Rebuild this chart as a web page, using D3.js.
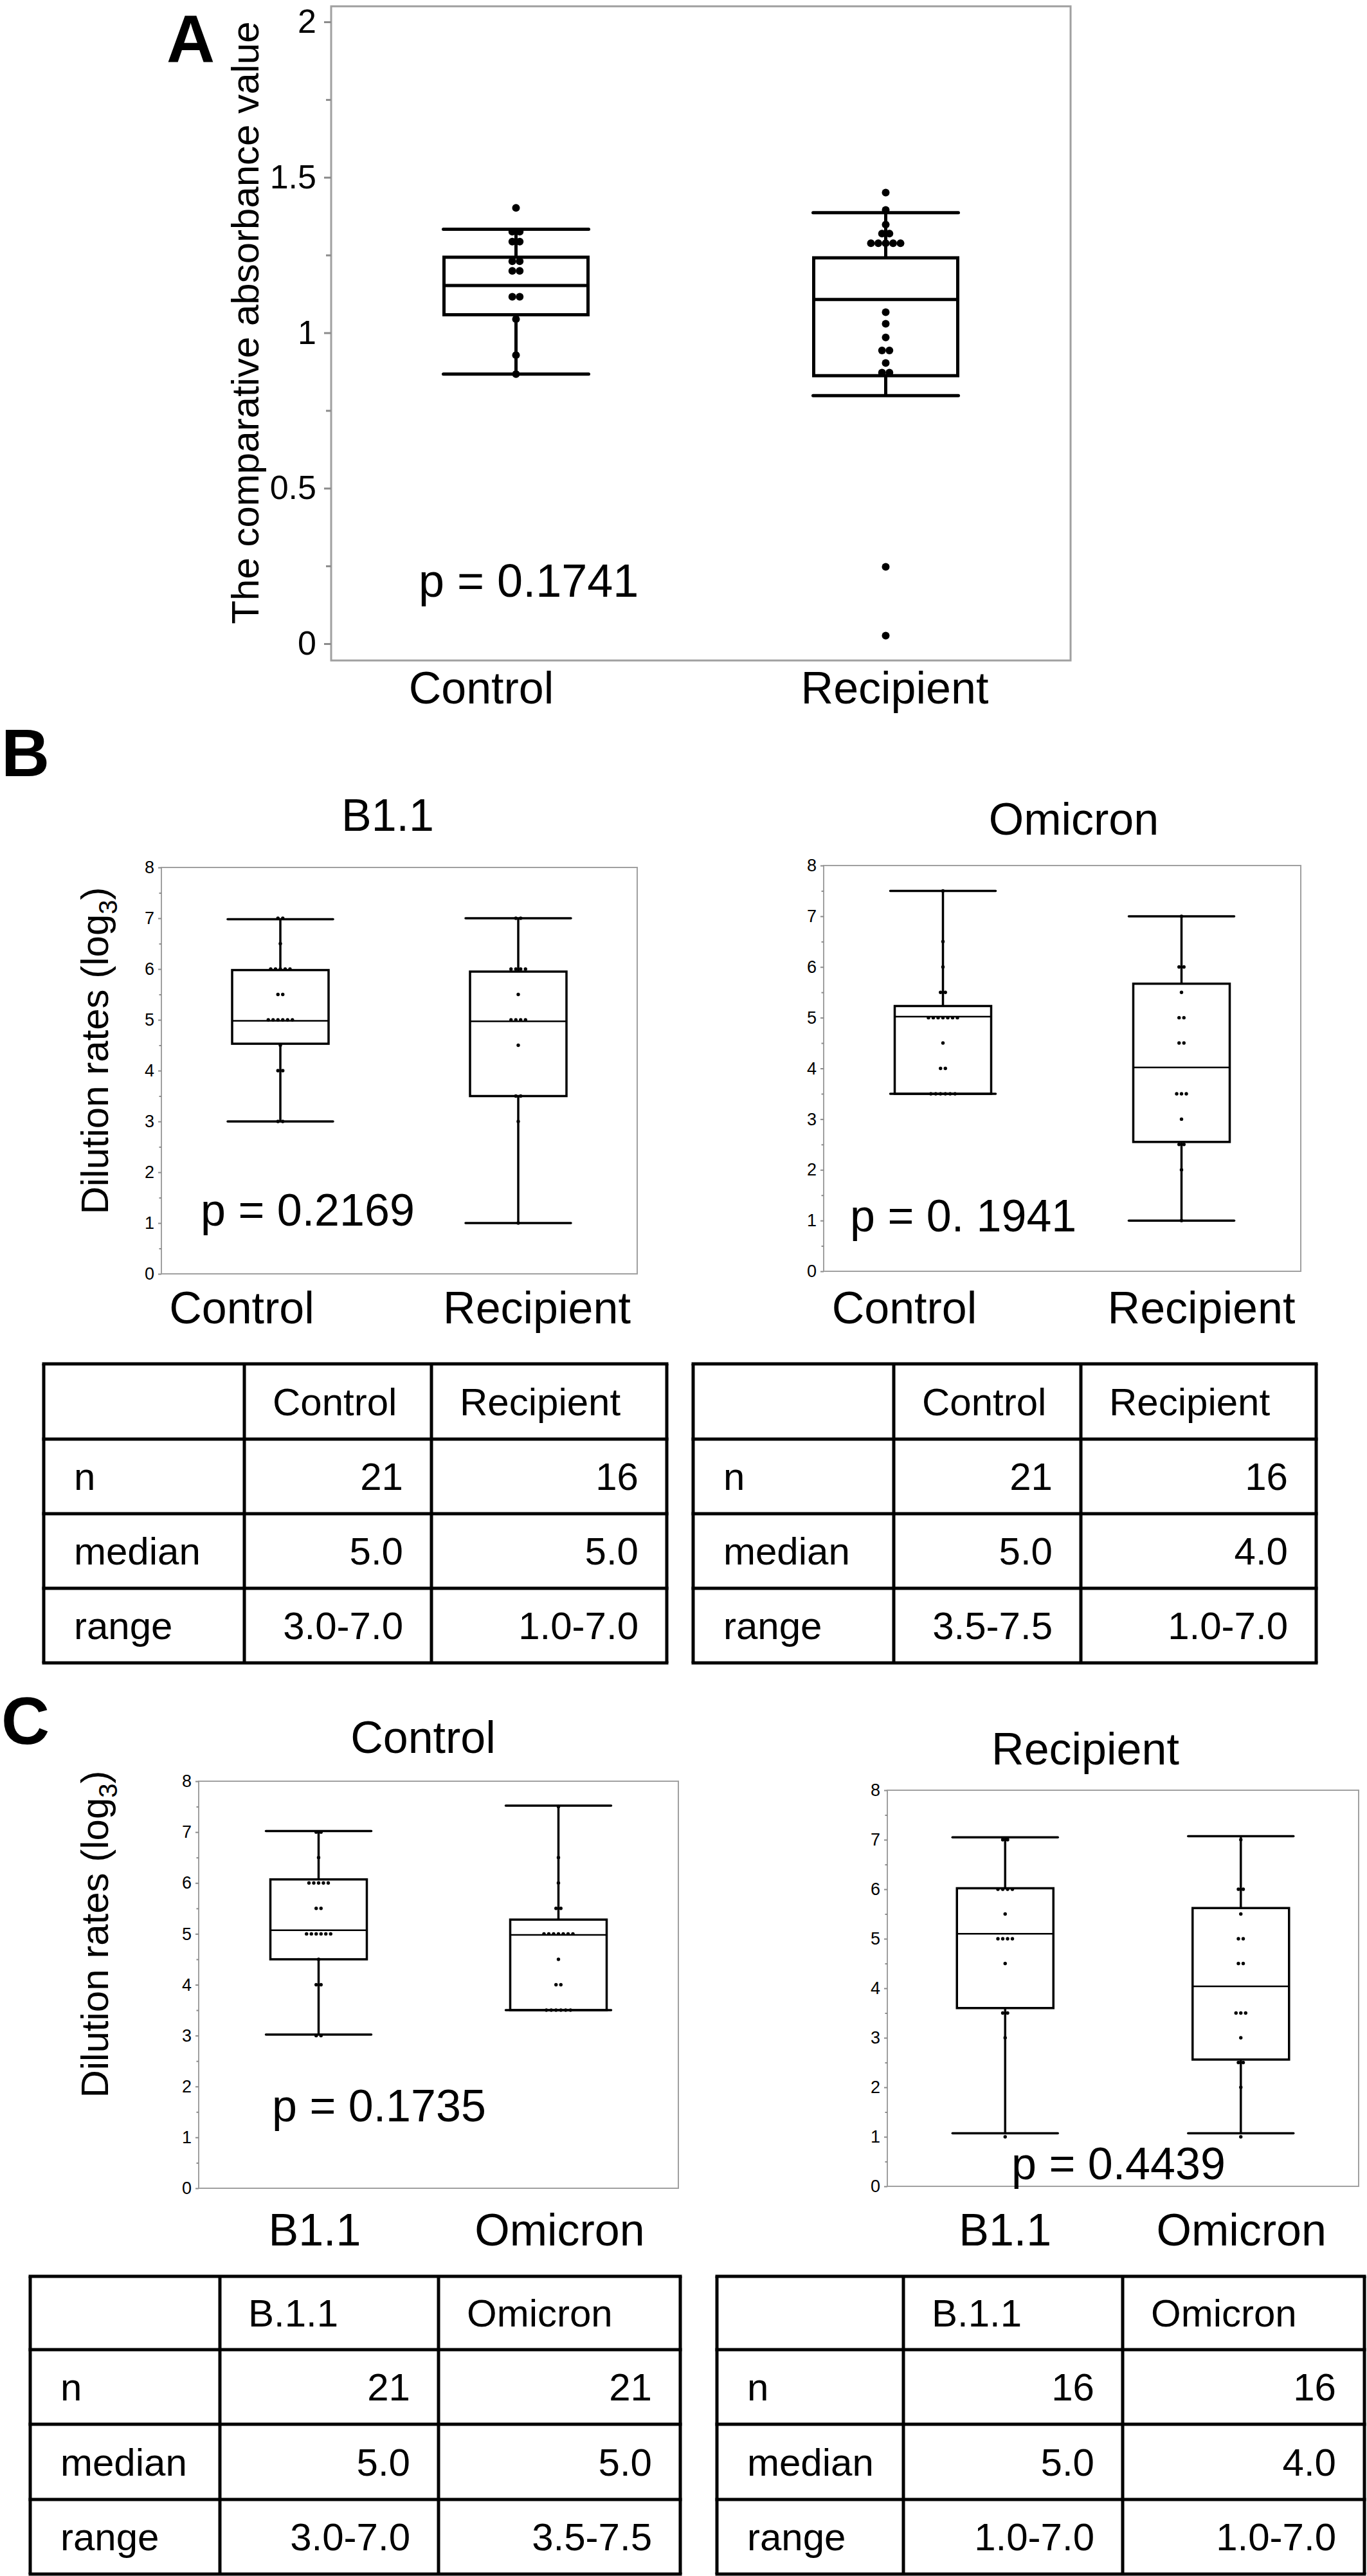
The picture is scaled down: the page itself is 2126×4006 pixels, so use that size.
<!DOCTYPE html>
<html lang="en">
<head>
<meta charset="UTF-8" />
<title>Absorbance and neutralising dilution rates</title>
<script src="https://d3js.org/d3.v7.min.js"></script>
<style>
  body { margin: 0; background: #fff; }
  svg { display: block; background: #fff; }
</style>
</head>
<body>
<div id="figure"></div>
<script>
// ---- values ----
const groupsCR = ["Control", "Recipient"];
const groupsVar = ["B1.1", "Omicron"];

// boxes: [lower whisker, Q1, median, Q3, upper whisker]
const absBoxControl = [0.867, 1.058, 1.152, 1.243, 1.333];
const absBoxRecipient = [0.798, 0.862, 1.107, 1.241, 1.386];
const absDotsControl = [1.402, 1.325, 1.325, 1.293, 1.293, 1.23, 1.23, 1.199, 1.199, 1.116, 1.116, 1.044, 0.928, 0.867];
const absDotsRecipient = [1.451, 1.395, 1.348, 1.319, 1.319, 1.288, 1.288, 1.288, 1.288, 1.288,
  1.066, 1.029, 0.985, 0.943, 0.943, 0.903, 0.872, 0.872, 0.247, 0.026];

const b11BoxControl = [3.0, 4.53, 4.98, 5.98, 6.98];
const b11BoxRecipient = [1.0, 3.5, 4.97, 5.95, 7.0];
const omiBoxControl = [3.5, 3.5, 5.02, 5.23, 7.5];
const omiBoxRecipient = [1.0, 2.55, 4.02, 5.67, 7.0];

const b11DotsControl = [7, 7, 6.5, 6, 6, 6, 6, 6, 5.5, 5.5, 5, 5, 5, 5, 5, 5, 4.5, 4, 4, 3, 3];
const b11DotsRecipient = [7, 7, 6, 6, 6, 6, 5.5, 5, 5, 5, 5, 4.5, 3.5, 3.5, 3, 1];
const omiDotsControl = [7.5, 6.5, 6, 5.5, 5.5, 5, 5, 5, 5, 5, 5, 5, 4.5, 4, 4, 3.5, 3.5, 3.5, 3.5, 3.5, 3.5];
const omiDotsRecipient = [7, 6, 6, 5.5, 5, 5, 4.5, 4.5, 3.5, 3.5, 3.5, 3, 2.5, 2.5, 2, 1];

// panel C shows the same samples, boxes as drawn there
const ctrlBoxB11 = [3.02, 4.5, 5.07, 6.07, 7.02];
const ctrlBoxOmi = [3.5, 3.5, 4.98, 5.28, 7.52];
const recBoxB11 = [1.07, 3.6, 5.1, 6.02, 7.05];
const recBoxOmi = [1.07, 2.56, 4.04, 5.62, 7.07];

const pValues = ["p = 0.1741", "p = 0.2169", "p = 0. 1941", "p = 0.1735", "p = 0.4439"];

const absTicks = [0, 0.5, 1, 1.5, 2];
const absMinor = [0.25, 0.75, 1.25, 1.75];
const dilTicks = [0, 1, 2, 3, 4, 5, 6, 7, 8];
const dilMinor = [0.5, 1.5, 2.5, 3.5, 4.5, 5.5, 6.5, 7.5];

const rowLabels = ["n", "median", "range"];
const headerCR = ["Control", "Recipient"];
const headerVar = ["B.1.1", "Omicron"];
const tableB11 = [["21", "16"], ["5.0", "5.0"], ["3.0-7.0", "1.0-7.0"]];
const tableOmi = [["21", "16"], ["5.0", "4.0"], ["3.5-7.5", "1.0-7.0"]];
const tableCtrl = [["21", "21"], ["5.0", "5.0"], ["3.0-7.0", "3.5-7.5"]];
const tableRec = [["16", "16"], ["5.0", "4.0"], ["1.0-7.0", "1.0-7.0"]];

const FONT = '"Liberation Sans", Arial, Helvetica, sans-serif';
const W = 2126, H = 4006;

const svg = d3.select("#figure").append("svg")
  .attr("width", W).attr("height", H)
  .attr("font-family", FONT);

function boxPanel(o) {
  const y = d3.scaleLinear().domain([0, o.topVal]).range([o.y0, o.yTop]);
  const x = d3.scalePoint().domain(o.groups).range([o.x0, o.x1]).padding(0.5);
  const g = svg.append("g");

  g.append("rect")
    .attr("x", o.x0).attr("y", y(o.frameHi))
    .attr("width", o.x1 - o.x0).attr("height", y(o.frameLo) - y(o.frameHi))
    .attr("fill", "none").attr("stroke", "#a0a0a0").attr("stroke-width", o.frameW);

  // minor ticks
  const minor = g.append("g").attr("transform", `translate(${o.x0},0)`)
    .call(d3.axisLeft(y).tickValues(o.minor).tickSize(o.minorLen).tickFormat(""));
  minor.select(".domain").remove();
  minor.selectAll("line").attr("stroke", "#8c8c8c").attr("stroke-width", o.frameW);

  const ax = g.append("g").attr("transform", `translate(${o.x0},0)`)
    .call(d3.axisLeft(y).tickValues(o.major).tickSize(o.tickLen)
      .tickPadding(o.tickPad).tickFormat(d => String(d)));
  ax.select(".domain").remove();
  ax.attr("font-family", FONT).attr("font-size", o.tickFont);
  ax.selectAll("line").attr("stroke", "#8c8c8c").attr("stroke-width", o.frameW);
  ax.selectAll("text").attr("fill", "#000");

  o.groups.forEach((grp, i) => {
    const [lo, q1, med, q3, hi] = o.boxes[i];
    const cx = x(grp);
    const bg = g.append("g").attr("stroke", "#000").attr("fill", "none");
    bg.append("line").attr("x1", cx).attr("x2", cx)
      .attr("y1", y(lo)).attr("y2", y(q1)).attr("stroke-width", o.lineW);
    bg.append("line").attr("x1", cx).attr("x2", cx)
      .attr("y1", y(q3)).attr("y2", y(hi)).attr("stroke-width", o.lineW);
    [lo, hi].forEach(v => {
      bg.append("line")
        .attr("x1", cx - o.capW / 2).attr("x2", cx + o.capW / 2)
        .attr("y1", y(v)).attr("y2", y(v))
        .attr("stroke-width", o.lineW).attr("stroke-linecap", "round");
    });
    bg.append("rect")
      .attr("x", cx - o.boxW / 2).attr("y", y(q3))
      .attr("width", o.boxW).attr("height", y(q1) - y(q3))
      .attr("stroke-width", o.lineW);
    bg.append("line")
      .attr("x1", cx - o.boxW / 2).attr("x2", cx + o.boxW / 2)
      .attr("y1", y(med)).attr("y2", y(med))
      .attr("stroke-width", o.medW);

    // dots, ties spread sideways
    const counts = d3.rollups(o.dots[i], v => v.length, d => d);
    counts.forEach(([v, k]) => {
      d3.range(k).forEach(j => {
        g.append("circle")
          .attr("cx", cx + (j - (k - 1) / 2) * o.dotGap)
          .attr("cy", y(v))
          .attr("r", o.dotR)
          .attr("fill", "#000");
      });
    });

    g.append("text")
      .attr("x", cx + o.labelDx[i]).attr("y", o.labelY)
      .attr("text-anchor", "middle").attr("font-size", 70)
      .text(grp);
  });

  g.append("text")
    .attr("x", o.pX).attr("y", o.pY)
    .attr("font-size", o.pFont)
    .text(o.p);

  if (o.title) {
    g.append("text")
      .attr("x", o.titleX).attr("y", o.titleY)
      .attr("text-anchor", "middle").attr("font-size", 70)
      .text(o.title);
  }

  if (o.yTitle) {
    const t = g.append("text")
      .attr("transform", `translate(${o.yTitleX},${o.yTitleY}) rotate(-90)`)
      .attr("text-anchor", "middle").attr("font-size", 60);
    t.append("tspan").text(o.yTitle);
    if (o.yTitleSub) {
      t.append("tspan").attr("font-size", 40).attr("dy", 14).text(o.yTitleSub);
      t.append("tspan").attr("dy", -14).text(")");
    }
  }
}

function table(cols, rows, header, body) {
  const g = svg.append("g").attr("font-size", 60);
  const cells = [["", ...header]].concat(body.map((r, i) => [rowLabels[i], ...r]));
  cells.forEach((row, ri) => {
    const top = rows[ri], h = rows[ri + 1] - rows[ri];
    const base = top + h / 2 + 21;
    row.forEach((txt, ci) => {
      if (!txt) return;
      const left = cols[ci], right = cols[ci + 1];
      const isNum = ri > 0 && ci > 0;
      g.append("text")
        .attr("x", isNum ? right - 44 : left + (ci === 0 ? 47 : 44))
        .attr("y", base)
        .attr("text-anchor", isNum ? "end" : "start")
        .text(txt);
    });
  });
  const lines = g.append("g").attr("stroke", "#000").attr("stroke-width", 5);
  rows.forEach(r => lines.append("line")
    .attr("x1", cols[0] - 2.5).attr("x2", cols[cols.length - 1] + 2.5)
    .attr("y1", r).attr("y2", r));
  cols.forEach(c => lines.append("line")
    .attr("x1", c).attr("x2", c)
    .attr("y1", rows[0]).attr("y2", rows[rows.length - 1]));
}

function panelLetter(txt, x, y) {
  svg.append("text").attr("x", x).attr("y", y)
    .attr("font-size", 104).attr("font-weight", "bold").text(txt);
}

// ---- A ----
panelLetter("A", 259, 96);
boxPanel({
  groups: groupsCR, boxes: [absBoxControl, absBoxRecipient], dots: [absDotsControl, absDotsRecipient],
  x0: 515, x1: 1665, y0: 1001, yTop: 34, topVal: 2, frameLo: -0.054, frameHi: 2.05,
  major: absTicks, minor: absMinor, tickLen: 11, minorLen: 8, tickPad: 12, tickFont: 52, frameW: 3,
  boxW: 224, capW: 226, lineW: 5, medW: 5, dotR: 6, dotGap: 11.5,
  labelDx: [-54, 14], labelY: 1094,
  p: pValues[0], pX: 651, pY: 928, pFont: 72,
  yTitle: "The comparative absorbance value", yTitleX: 402, yTitleY: 502
});

// ---- B ----
panelLetter("B", 2, 1207);
const dilCommon = {
  groups: groupsCR, topVal: 8, frameLo: 0, frameHi: 8,
  major: dilTicks, minor: dilMinor, tickLen: 5, minorLen: 3.5, tickPad: 6, tickFont: 27, frameW: 2,
  boxW: 150, capW: 164, lineW: 3.5, medW: 2.5, dotR: 2.7, dotGap: 7.5, pFont: 70
};
boxPanel(Object.assign({}, dilCommon, {
  boxes: [b11BoxControl, b11BoxRecipient], dots: [b11DotsControl, b11DotsRecipient],
  x0: 251, x1: 991, y0: 1981, yTop: 1349,
  labelDx: [-60, 29], labelY: 2058,
  p: pValues[1], pX: 312, pY: 1906,
  title: "B1.1", titleX: 603, titleY: 1292,
  yTitle: "Dilution rates (log", yTitleSub: "3", yTitleX: 168, yTitleY: 1634
}));
boxPanel(Object.assign({}, dilCommon, {
  boxes: [omiBoxControl, omiBoxRecipient], dots: [omiDotsControl, omiDotsRecipient],
  x0: 1281, x1: 2023, y0: 1977, yTop: 1346,
  labelDx: [-60, 31], labelY: 2058,
  p: pValues[2], pX: 1322, pY: 1915,
  title: "Omicron", titleX: 1670, titleY: 1298
}));
table([68, 380, 671, 1037], [2121, 2238, 2354, 2470, 2586], headerCR, tableB11);
table([1078, 1390, 1681, 2047], [2121, 2238, 2354, 2470, 2586], headerCR, tableOmi);

// ---- C ----
panelLetter("C", 2, 2712);
boxPanel(Object.assign({}, dilCommon, {
  groups: groupsVar,
  boxes: [ctrlBoxB11, ctrlBoxOmi], dots: [b11DotsControl, omiDotsControl],
  x0: 309, x1: 1055, y0: 3403, yTop: 2770,
  labelDx: [-6, 2], labelY: 3492,
  p: pValues[3], pX: 423, pY: 3299,
  title: "Control", titleX: 658, titleY: 2726,
  yTitle: "Dilution rates (log", yTitleSub: "3", yTitleX: 168, yTitleY: 3008
}));
boxPanel(Object.assign({}, dilCommon, {
  groups: groupsVar,
  boxes: [recBoxB11, recBoxOmi], dots: [b11DotsRecipient, omiDotsRecipient],
  x0: 1380, x1: 2113, y0: 3400, yTop: 2784,
  labelDx: [0, 1], labelY: 3492,
  p: pValues[4], pX: 1573, pY: 3389,
  title: "Recipient", titleX: 1688, titleY: 2744
}));
table([47, 342, 682, 1058], [3540, 3654, 3770, 3887, 4003], headerVar, tableCtrl);
table([1115, 1405, 1746, 2122], [3540, 3654, 3770, 3887, 4003], headerVar, tableRec);
</script>
</body>
</html>
